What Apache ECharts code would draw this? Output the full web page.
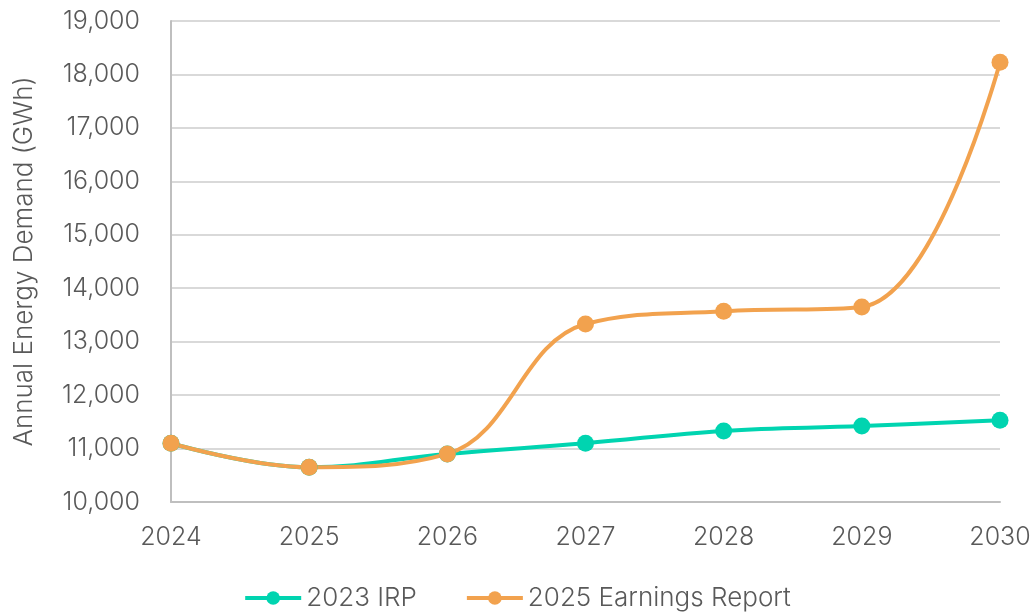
<!DOCTYPE html>
<html>
<head>
<meta charset="utf-8">
<script src="https://cdn.jsdelivr.net/npm/echarts@6/dist/echarts.min.js"></script>
<style>
	html, body { margin: 0; padding: 0; background: #fff; }
	#chart { width: 1034px; height: 612px; }
</style>
</head>
<body>
<div id="chart"></div>
<script>
var years = ["2024", "2025", "2026", "2027", "2028", "2029", "2030"];
var irp2023 = [11100, 10650, 10900, 11100, 11330, 11420, 11530];
var earnings2025 = [11100, 10650, 10900, 13330, 13570, 13650, 18230];
var seriesNames = ["2023 IRP", "2025 Earnings Report"];

var fontFamily = "Inter, 'Liberation Sans', sans-serif";
var textColor = "#595959";

var chart = echarts.init(document.getElementById("chart"));
chart.setOption({
	backgroundColor: "#fff",
	animation: false,
	grid: {
		left: 171,
		right: 34,
		top: 21,
		bottom: 110
	},
	legend: {
		bottom: -4,
		left: "center",
		itemWidth: 56,
		itemHeight: 17,
		itemGap: 48,
		lineStyle: { width: 4 },
		textStyle: {
			color: textColor,
			fontSize: 26,
			fontWeight: 300,
			fontFamily: fontFamily
		},
		data: seriesNames
	},
	xAxis: {
		type: "category",
		data: years,
		boundaryGap: false,
		axisLine: { lineStyle: { color: "#bfbfbf", width: 2 } },
		axisTick: { show: false },
		axisLabel: {
			color: textColor,
			fontSize: 25,
			fontWeight: 300,
			fontFamily: fontFamily,
			margin: 23
		}
	},
	yAxis: {
		type: "value",
		min: 10000,
		max: 19000,
		interval: 1000,
		name: "Annual Energy Demand (GWh)",
		nameLocation: "middle",
		nameGap: 134,
		nameTextStyle: {
			color: textColor,
			fontSize: 26,
			fontWeight: 300,
			fontFamily: fontFamily
		},
		axisLine: { show: true, lineStyle: { color: "#bfbfbf", width: 2 } },
		axisTick: { show: false },
		splitLine: { lineStyle: { color: "#d9d9d9", width: 2 } },
		axisLabel: {
			color: textColor,
			fontSize: 25,
			fontWeight: 300,
			fontFamily: fontFamily,
			margin: 31,
			formatter: function (v) {
				return v.toLocaleString("en-US");
			}
		}
	},
	series: [{
		name: seriesNames[0],
		type: "line",
		data: irp2023,
		smooth: 0.4,
		symbol: "circle",
		symbolSize: 17,
		lineStyle: { width: 4, color: "#00d4b0" },
		itemStyle: { color: "#00d4b0" }
	}, {
		name: seriesNames[1],
		type: "line",
		data: earnings2025,
		smooth: 0.4,
		symbol: "circle",
		symbolSize: 17,
		lineStyle: { width: 4, color: "#f2a24e" },
		itemStyle: { color: "#f2a24e" }
	}]
});
</script>
</body>
</html>
